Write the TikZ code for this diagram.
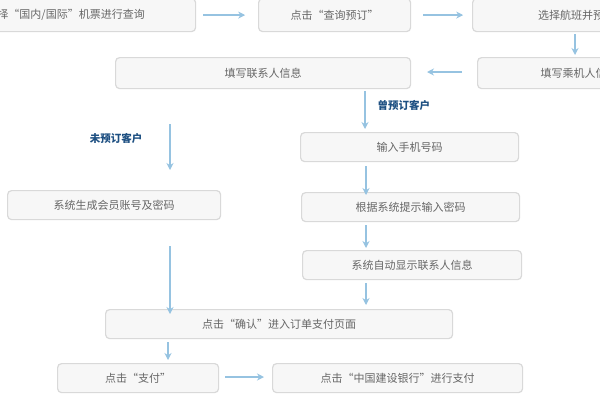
\documentclass[tikz,border=0pt]{standalone}
\usepackage{fontspec}
\setmainfont{Noto Sans CJK SC}
\usetikzlibrary{arrows.meta}
\definecolor{arr}{RGB}{150,195,225}
\definecolor{lbl}{RGB}{30,80,130}
\begin{document}
\begin{tikzpicture}[x=1pt,y=-1pt,
 box/.style={draw=gray!30,fill=gray!6,rounded corners=4pt,line width=1.2pt,text=gray!80!black,font=\fontsize{11}{13}\selectfont},
 ar/.style={draw=arr,line width=1.3pt,-{Stealth[length=7pt,width=7pt]}},
 lab/.style={text=lbl,font=\bfseries\fontsize{10.5}{12}\selectfont}]
\useasboundingbox (0,0) rectangle (600,400);
\clip (0,0) rectangle (600,400);
\newcommand{\bx}[6]{\node[box,minimum width=#3-#2,minimum height=#5-#4,anchor=north west] (#1) at (#2,#4) {#6};}
\bx{b1}{-65}{195}{-2}{31}{选择“国内/国际”机票进行查询}
\bx{b2}{258}{410}{-2}{31}{点击“查询预订”}
\bx{b3}{472}{680}{-2}{31}{选择航班并预订}
\bx{b4}{115}{410}{57}{88}{填写联系人信息}
\bx{b5}{477}{680}{57}{88}{填写乘机人信息}
\bx{b6}{300}{518}{132}{161}{输入手机号码}
\bx{b7}{7}{220}{190}{219}{系统生成会员账号及密码}
\bx{b8}{301}{519}{192}{221}{根据系统提示输入密码}
\bx{b9}{302}{521}{250}{279}{系统自动显示联系人信息}
\bx{b10}{105}{452}{309}{338}{点击“确认”进入订单支付页面}
\bx{b11}{57}{218}{363}{392}{点击“支付”}
\bx{b12}{272}{522}{363}{392}{点击“中国建设银行”进行支付}
\coordinate (s7) at (170,124);
\draw[ar] (b1.east) ++(7,0) -- ++(42,0);
\draw[ar] (b2.east) ++(12,0) -- ++(40,0);
\draw[ar] (575,34) -- (575,55);
\draw[ar] (462,72) -- (427,72);
\draw[ar] (365,91) -- (365,129);
\node[lab,anchor=west] at (374,105) {曾预订客户};
\draw[ar] (s7) -- (170,170);
\node[lab] at (116,138) {未预订客户};
\draw[ar] (170,246) -- (170,314);
\draw[ar] (366,166) -- (366,195);
\draw[ar] (366,225) -- (366,248);
\draw[ar] (366,283) -- (366,305);
\draw[ar] (168,342) -- (168,360);
\draw[ar] (225,377) -- (264,377);
\end{tikzpicture}
\end{document}
